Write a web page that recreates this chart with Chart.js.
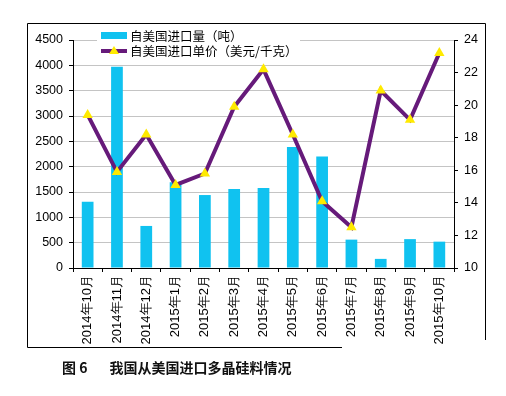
<!DOCTYPE html>
<html>
<head>
<meta charset="utf-8">
<script src="https://cdn.jsdelivr.net/npm/chart.js@4/dist/chart.umd.min.js"></script>
<style>
  body { margin: 0; background: #fff; }
  #wrap { position: relative; width: 506px; height: 396px; }
  #chart { position: absolute; left: 0; top: 0; }
  #caption {
    position: absolute; left: 62px; top: 357px;
    font: bold 14px "Noto Sans CJK SC", sans-serif; color: #111;
    white-space: pre;
  }
  #caption span { margin-left: 22px; }
</style>
</head>
<body>
<div id="wrap">
  <canvas id="chart" width="506" height="396"></canvas>
  <div id="caption">图 6<span>我国从美国进口多晶硅料情况</span></div>
</div>
<script>
const months = ['2014年10月', '2014年11月', '2014年12月', '2015年1月', '2015年2月', '2015年3月', '2015年4月',
  '2015年5月', '2015年6月', '2015年7月', '2015年8月', '2015年9月', '2015年10月'];
const volume = [1310, 3970, 830, 1690, 1440, 1560, 1580, 2390, 2200, 560, 180, 570, 520]; // 吨
const price = [19.4, 15.9, 18.2, 15.1, 15.8, 19.9, 22.2, 18.2, 14.1, 12.5, 20.9, 19.1, 23.2]; // 美元/千克

const barColor = '#10c2f0';
const lineColor = '#661a7a';
const markColor = '#ffea00';

// 外框 + 图例
const frame = {
  id: 'frame',
  beforeDraw(chart) {
    const ctx = chart.ctx;
    ctx.save();
    ctx.strokeStyle = '#000';
    ctx.lineWidth = 1;
    ctx.beginPath();
    ctx.moveTo(27.5, 347.5); ctx.lineTo(27.5, 23.5); ctx.lineTo(485.5, 23.5); ctx.lineTo(485.5, 340);
    ctx.moveTo(27.5, 347.5); ctx.lineTo(342, 347.5);
    ctx.stroke();
    ctx.restore();
  },
  afterDraw(chart) {
    const ctx = chart.ctx;
    const ds = chart.data.datasets;
    const barDs = ds.find(d => d.type === 'bar');
    const lineDs = ds.find(d => d.type === 'line');
    ctx.save();
    ctx.fillStyle = '#fff';
    ctx.fillRect(97, 29, 203, 29);
    ctx.font = '12.5px "Noto Sans CJK SC", sans-serif';
    ctx.textBaseline = 'middle';
    // 柱
    ctx.fillStyle = barColor;
    ctx.fillRect(101, 32, 26, 7);
    ctx.fillStyle = '#000';
    ctx.fillText(barDs.label, 130, 36);
    // 线
    ctx.strokeStyle = lineColor;
    ctx.lineWidth = 4;
    ctx.beginPath(); ctx.moveTo(101, 51); ctx.lineTo(127, 51); ctx.stroke();
    ctx.fillStyle = markColor;
    ctx.beginPath(); ctx.moveTo(114, 46); ctx.lineTo(119, 54); ctx.lineTo(109, 54); ctx.closePath(); ctx.fill();
    ctx.fillStyle = '#000';
    ctx.fillText(lineDs.label, 130, 51);
    ctx.restore();
  }
};

new Chart(document.getElementById('chart'), {
  data: {
    labels: months,
    datasets: [
      {
        type: 'line',
        label: '自美国进口单价（美元/千克）',
        data: price,
        yAxisID: 'y2',
        borderColor: lineColor,
        borderWidth: 4,
        pointStyle: 'triangle',
        pointRadius: 6,
        pointBackgroundColor: markColor,
        pointBorderColor: markColor,
        pointBorderWidth: 0,
        tension: 0,
        order: 0
      },
      {
        type: 'bar',
        label: '自美国进口量（吨）',
        data: volume,
        yAxisID: 'y',
        backgroundColor: barColor,
        barPercentage: 0.4,
        categoryPercentage: 1,
        order: 1
      }
    ]
  },
  plugins: [frame],
  options: {
    responsive: false,
    animation: false,
    layout: { padding: { top: 40, left: 0, right: 0, bottom: 0 } },
    plugins: { legend: { display: false }, tooltip: { enabled: false } },
    scales: {
      x: {
        grid: { drawOnChartArea: false, tickLength: 4, tickColor: '#000' },
        border: { color: '#000' },
        ticks: { color: '#000', font: { size: 13, family: 'Liberation Sans' }, maxRotation: 90, minRotation: 90, autoSkip: false, padding: 3 },
        afterFit(scale) { scale.height = 128; }
      },
      y: {
        position: 'left',
        min: 0, max: 4500,
        ticks: { stepSize: 500, color: '#000', font: { size: 12.5, family: 'Liberation Sans' }, padding: 6, callback: v => String(v) },
        grid: { color: '#c4c4c4', tickColor: '#000', tickLength: 4 },
        border: { color: '#000' },
        afterFit(scale) { scale.width = 73; }
      },
      y2: {
        position: 'right',
        min: 10, max: 24,
        ticks: { stepSize: 2, color: '#000', font: { size: 12.5, family: 'Liberation Sans' }, padding: 6, callback: v => String(v) },
        grid: { drawOnChartArea: false, tickColor: '#000', tickLength: 4 },
        border: { color: '#000' },
        afterFit(scale) { scale.width = 52; }
      }
    }
  }
});
</script>
</body>
</html>
